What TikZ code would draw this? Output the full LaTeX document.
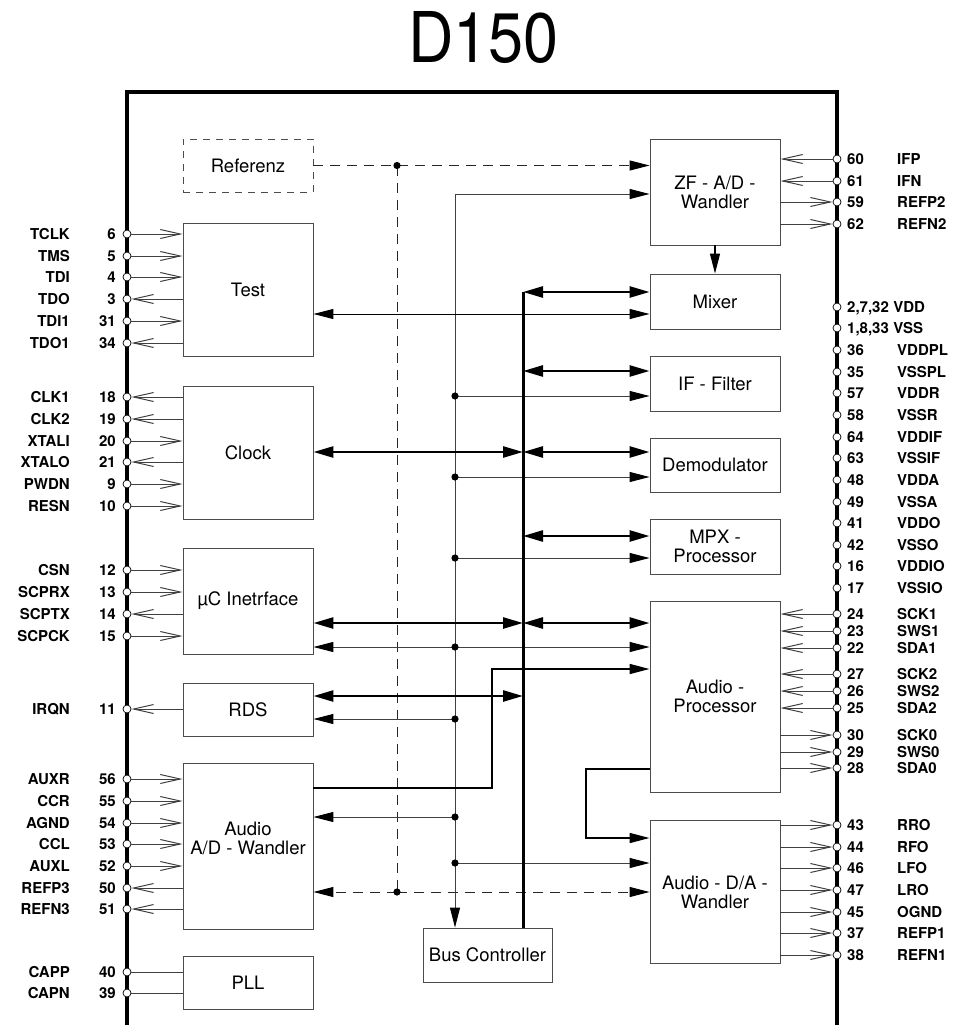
\documentclass[tikz,border=0pt]{standalone}
\usepackage{fontspec}
\setmainfont{TeX Gyre Heros}
\usetikzlibrary{arrows.meta}
\begin{document}
\begin{tikzpicture}[x=1pt,y=-1pt,
  ftri/.tip={Triangle[length=20pt,width=10pt,color=black]},
  btri/.tip={Triangle[length=20pt,width=11pt,color=black]},
  barb/.tip={Straight Barb[length=20pt,width=9pt]},
  blk/.style={draw=black!70, line width=0.9pt, inner sep=0pt, align=center,
    font=\fontsize{18.5}{19}\selectfont, minimum width=130pt},
  pinc/.style={circle, draw=black, fill=white, line width=0.7pt, minimum size=8pt, inner sep=0pt},
  lbl/.style={font=\fontsize{15}{15}\selectfont\bfseries, inner sep=0pt, text height=10.9pt, text depth=0pt},
  thinl/.style={draw=black!75, line width=1pt},
  medl/.style={draw=black, line width=1.6pt},
  thickl/.style={draw=black, line width=2.6pt},
  busl/.style={draw=black, line width=3pt},
  dashl/.style={draw=black!85, line width=1pt, dash pattern=on 10pt off 7pt},
  pin-in/.style={-barb},
  pin-out/.style={barb-},
  pin-none/.style={},
  jdot/.style={fill=black}
]
\useasboundingbox (0,0) rectangle (961,1025);

% title
\node[font=\fontsize{70}{70}\selectfont, xscale=0.9, inner sep=0pt] (title) at (483.5,38) {D150};

% chip outline
\draw[line width=3.5pt, line join=miter] (127,1025) -- (127,92) -- (837,92) -- (837,1025);

% left blocks
\node[blk, minimum height=53pt, dashed, dash pattern=on 7pt off 6pt] (ref) at (248,165.5) {Referenz};
\node[blk, minimum height=133pt] (test) at (248,289.5) {Test};
\node[blk, minimum height=133pt] (clock) at (248,452.5) {Clock};
\node[blk, minimum height=106pt] (uc) at (248,601) {µC Inetrface};
\node[blk, minimum height=53pt] (rds) at (248,709.5) {RDS};
\node[blk, minimum height=166pt] (adw) at (248,846) {};
\node[font=\fontsize{18.5}{19}\selectfont, align=center, inner sep=0pt] (adwt) at (248,838) {Audio\\A/D - Wandler};
\node[blk, minimum height=53pt] (pll) at (248,982.5) {PLL};

% right blocks
\node[blk, minimum height=106pt] (zf) at (715,192) {ZF - A/D -\\Wandler};
\node[blk, minimum height=55pt] (mix) at (715,301.5) {Mixer};
\node[blk, minimum height=55pt] (iff) at (715,383.5) {IF - Filter};
\node[blk, minimum height=54pt] (dem) at (715,465) {Demodulator};
\node[blk, minimum height=55pt] (mpx) at (715,546.5) {MPX -\\Processor};
\node[blk, minimum height=191pt] (ap) at (715,696.5) {Audio -\\Processor};
\node[blk, minimum height=143pt] (da) at (715,892) {Audio - D/A -\\Wandler};
\node[blk, minimum width=129pt, minimum height=54pt] (bus) at (487.5,955) {Bus Controller};

% left pins
\foreach \y/\nm/\num/\d/\b [count=\k] in {
  234/TCLK/6/in/test, 256/TMS/5/in/test, 277/TDI/4/in/test, 299/TDO/3/out/test,
  321/TDI1/31/in/test, 343/TDO1/34/out/test,
  397/CLK1/18/out/clock, 419/CLK2/19/out/clock, 441/XTALI/20/in/clock,
  462/XTALO/21/out/clock, 484/PWDN/9/in/clock, 506/RESN/10/in/clock,
  570/CSN/12/in/uc, 592/SCPRX/13/in/uc, 614/SCPTX/14/out/uc, 636/SCPCK/15/in/uc,
  709/IRQN/11/out/rds,
  779/AUXR/56/in/adw, 801/CCR/55/in/adw, 823/AGND/54/in/adw, 844/CCL/53/in/adw,
  866/AUXL/52/in/adw, 888/REFP3/50/out/adw, 909/REFN3/51/out/adw,
  972/CAPP/40/none/pll, 993/CAPN/39/none/pll} {
  \node[pinc] (L\k) at (127,\y) {};
  \node[lbl, anchor=east] (Ln\k) at (70,\y) {\nm};
  \node[lbl, anchor=east] (Lm\k) at (116,\y) {\num};
  \draw[thinl, pin-\d] (L\k) -- (\b.west |- L\k);
}

% right signal pins
\foreach \y/\nm/\num/\d/\b [count=\k] in {
  159/IFP/60/in/zf, 181/IFN/61/in/zf, 202/REFP2/59/out/zf, 224/REFN2/62/out/zf,
  614/SCK1/24/in/ap, 631/SWS1/23/in/ap, 648/SDA1/22/in/ap,
  674/SCK2/27/in/ap, 691/SWS2/26/in/ap, 708/SDA2/25/in/ap,
  735/SCK0/30/out/ap, 752/SWS0/29/out/ap, 768/SDA0/28/out/ap,
  825/RRO/43/out/da, 847/RFO/44/out/da, 868/LFO/46/out/da, 890/LRO/47/out/da,
  912/OGND/45/out/da, 933/REFP1/37/out/da, 955/REFN1/38/out/da} {
  \node[pinc] (R\k) at (837,\y) {};
  \node[lbl, anchor=west] (Rm\k) at (847,\y) {\num};
  \node[lbl, anchor=west] (Rn\k) at (897,\y) {\nm};
  \draw[thinl, pin-\d] (R\k) -- (\b.east |- R\k);
}

% power pins
\node[pinc] (Pa) at (837,307) {};
\node[lbl, anchor=west] (Pam) at (847,307) {2,7,32};
\node[lbl, anchor=west] (Pan) at (Pam.east) [xshift=4pt] {VDD};
\node[pinc] (Pb) at (837,328) {};
\node[lbl, anchor=west] (Pbm) at (847,328) {1,8,33};
\node[lbl, anchor=west] (Pbn) at (Pbm.east) [xshift=4pt] {VSS};
\foreach \y/\nm/\num [count=\k] in {
  350/VDDPL/36, 372/VSSPL/35, 393/VDDR/57, 415/VSSR/58, 437/VDDIF/64,
  458/VSSIF/63, 480/VDDA/48, 502/VSSA/49, 523/VDDO/41, 545/VSSO/42,
  566/VDDIO/16, 588/VSSIO/17} {
  \node[pinc] (P\k) at (837,\y) {};
  \node[lbl, anchor=west] (Pm\k) at (847,\y) {\num};
  \node[lbl, anchor=west] (Pn\k) at (897,\y) {\nm};
}

% dashed reference distribution
\coordinate (jr1) at (397,165.5);
\coordinate (jr2) at (397,892);
\draw[dashl, -ftri] (ref.east) -- (zf.west |- ref.east);
\draw[dashl] (jr1) -- (jr2);
\draw[dashl, -ftri] (jr2) -- (adw.east |- jr2);
\draw[dashl, -ftri] (jr2) -- (da.west |- jr2);
\fill[jdot] (jr1) circle (3.6pt);
\fill[jdot] (jr2) circle (3.6pt);

% thin control bus (x = 455)
\coordinate (g0) at (455,194);
\coordinate (g1) at (455,396);
\coordinate (g2) at (455,477);
\coordinate (g3) at (455,558);
\coordinate (g4) at (455,647);
\coordinate (g5) at (455,719);
\coordinate (g6) at (455,817);
\coordinate (g7) at (455,863);
\draw[thinl, -ftri] (g0) -- (g0 |- bus.north);
\draw[thinl, -ftri] (g0) -- (zf.west |- g0);
\draw[thinl, -ftri] (g1) -- (iff.west |- g1);
\draw[thinl, -ftri] (g2) -- (dem.west |- g2);
\draw[thinl, -ftri] (g3) -- (mpx.west |- g3);
\draw[thinl, ftri-ftri] (uc.east |- g4) -- (ap.west |- g4);
\draw[thinl, -ftri] (g5) -- (rds.east |- g5);
\draw[thinl, -ftri] (g6) -- (adw.east |- g6);
\draw[thinl, -ftri] (g7) -- (da.west |- g7);
\foreach \c in {g1,g2,g3,g4,g5,g6,g7} \fill[jdot] (\c) circle (3.6pt);

% test <-> mixer
\coordinate (tm) at (313,314);
\draw[thinl, draw=black, ftri-ftri] (test.east |- tm) -- (mix.west |- tm);

% thick data bus (x = 523)
\coordinate (t0) at (523,292);
\coordinate (t1) at (523,371);
\coordinate (t2) at (523,452);
\coordinate (t3) at (523,536);
\coordinate (t4) at (523,623);
\coordinate (t5) at (523,696);
\draw[busl] (t0) -- (t0 |- bus.north);
\draw[thickl, btri-btri] (t0) -- (mix.west |- t0);
\draw[thickl, btri-btri] (t1) -- (iff.west |- t1);
\draw[thickl, btri-btri] (t2) -- (dem.west |- t2);
\draw[thickl, btri-btri] (clock.east |- t2) -- (t2);
\draw[thickl, btri-btri] (t3) -- (mpx.west |- t3);
\draw[thickl, btri-btri] (t4) -- (ap.west |- t4);
\draw[thickl, btri-btri] (uc.east |- t4) -- (t4);
\draw[thickl, btri-btri] (rds.east |- t5) -- (t5);

% audio paths
\coordinate (a1) at (492,669);
\coordinate (a2) at (586,838);
\draw[medl, -ftri] (adw.east |- 0,788) -| (a1) -- (ap.west |- a1);
\draw[medl, -ftri] (ap.west |- 0,769) -| (a2) -- (da.west |- a2);

% ZF -> Mixer
\draw[medl, line width=1.2pt, -ftri] (zf.south) -- (mix.north);
\end{tikzpicture}
\end{document}
